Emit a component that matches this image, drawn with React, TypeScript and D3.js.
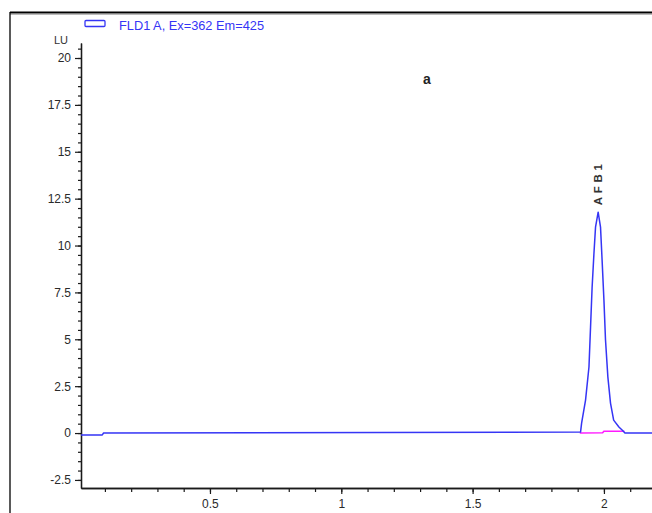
import React, { useRef, useEffect } from 'react';
import { select, scaleLinear, axisLeft, axisBottom, line, range } from 'd3';

// retention time (min) and detector signal (LU)
const signalTime = [
  0.009, 0.09, 0.095, 1.911, 1.915, 1.93, 1.943, 1.949, 1.955, 1.962, 1.968, 1.978,
  1.987, 1.993, 2.0, 2.006, 2.015, 2.025, 2.037, 2.057, 2.072, 2.08, 2.183,
];
const signalLU = [
  -0.1, -0.1, 0, 0.05, 0.53, 1.76, 3.52, 5.65, 7.78, 9.59, 10.98, 11.78,
  10.98, 9.22, 7.09, 4.96, 2.98, 1.6, 0.69, 0.32, 0.12, 0, 0,
];
// integration baseline
const baseTime = [1.908, 1.995, 2.0, 2.078];
const baseLU = [0, 0.02, 0.1, 0.1];

const yTicks = [-2.5, 0, 2.5, 5, 7.5, 10, 12.5, 15, 17.5, 20];
const xTicks = [0.5, 1, 1.5, 2];
const peakName = 'AFB1';
const peakTime = 1.978;
const peakLU = 11.78;
const legendLabel = 'FLD1 A, Ex=362  Em=425';

const BLUE = '#3535f5';

function App() {
  const xAxisRef = useRef<SVGGElement>(null);
  const yAxisRef = useRef<SVGGElement>(null);

  const x = scaleLinear().domain([0.009, 2.183]).range([81, 652]);
  const y = scaleLinear().domain([-2.93, 20.8]).range([488, 43]);

  useEffect(() => {
    const xg = select(xAxisRef.current);
    xg.selectAll('*').remove();
    xg.append('g').call(
      axisBottom(x).tickValues(range(0.1, 2.15, 0.1)).tickSize(4).tickSizeOuter(0).tickFormat(() => '')
    );
    xg.append('g').call(
      axisBottom(x).tickValues(xTicks).tickSize(6).tickSizeOuter(0).tickPadding(5).tickFormat((d) => String(d))
    );
    const yg = select(yAxisRef.current);
    yg.selectAll('*').remove();
    yg.append('g').call(
      axisLeft(y).tickValues(range(-2.5, 20.6, 0.5)).tickSize(3).tickSizeOuter(0).tickFormat(() => '')
    );
    yg.append('g').call(
      axisLeft(y).tickValues(yTicks).tickSize(6).tickSizeOuter(0).tickPadding(4).tickFormat((d) => String(d))
    );
    [xg, yg].forEach((g) => {
      g.selectAll('path').attr('stroke', '#1a1a1a').attr('stroke-width', 1.3);
      g.selectAll('line').attr('stroke', '#1a1a1a').attr('stroke-width', 1.2);
      g.selectAll('text')
        .attr('fill', '#2a2a2a')
        .style('font-family', '"Liberation Sans", Arial, sans-serif')
        .style('font-size', '12px');
    });
  }, []);

  const signalLine = line<number>()
    .x((_, i) => x(signalTime[i]))
    .y((d) => y(d));
  const baseLine = line<number>()
    .x((_, i) => x(baseTime[i]))
    .y((d) => y(d));

  return (
    <svg
      width={652}
      height={513}
      style={{ position: 'absolute', left: 0, top: 0, background: '#fff' }}
      fontFamily='"Liberation Sans", Arial, sans-serif'
    >
      {/* frame */}
      <line x1={10} y1={14.5} x2={652} y2={14.5} stroke="#bbb" strokeWidth={1} />
      <line x1={10} y1={12.5} x2={652} y2={12.5} stroke="#000" strokeWidth={2} />
      <line x1={10} y1={12} x2={10} y2={513} stroke="#000" strokeWidth={1.3} />

      {/* legend */}
      <rect x={85} y={20.5} width={20} height={6} fill="none" stroke={BLUE} strokeWidth={1.3} rx={1} />
      <text x={119} y={30} fontSize={13} fill={BLUE} textLength={145} lengthAdjust="spacingAndGlyphs">
        {legendLabel}
      </text>
      <text x={61} y={44} fontSize={11} fill="#333" textAnchor="middle">LU</text>

      <text x={427} y={84} fontSize={14} fontWeight="bold" fill="#222" textAnchor="middle">a</text>

      <g ref={yAxisRef} transform={`translate(${x.range()[0]},0)`} />
      <g ref={xAxisRef} transform={`translate(0,${y.range()[0]})`} />

      <path d={baseLine(baseLU) || ''} fill="none" stroke="#ff1aff" strokeWidth={1.6} />
      <path d={signalLine(signalLU) || ''} fill="none" stroke={BLUE} strokeWidth={1.5} strokeLinejoin="round" />

      <text
        transform={`translate(${x(peakTime) + 4},${y(peakLU) - 7}) rotate(-90)`}
        fontSize={11.5}
        fontWeight="bold"
        fill="#333"
        textLength={41}
        lengthAdjust="spacing"
      >
        {peakName}
      </text>
    </svg>
  );
}

export default App;
